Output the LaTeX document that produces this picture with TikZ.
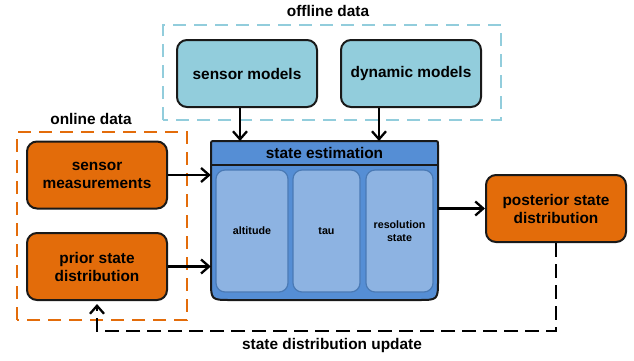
\documentclass[tikz,border=0pt]{standalone}
\usepackage{fontspec}
\setmainfont{Liberation Sans}
\usetikzlibrary{arrows.meta,calc}
\definecolor{lblue}{HTML}{92CDDC}
\definecolor{dorange}{HTML}{E36C0A}
\definecolor{seblue}{HTML}{558ED5}
\definecolor{inblue}{HTML}{8DB3E2}
\definecolor{inedge}{HTML}{4A7AB5}
\tikzset{
  x=1pt,y=1pt,
  box/.style={draw=black!90, line width=2pt, rounded corners=10pt, minimum width=140pt, minimum height=67pt, align=center, font=\fontsize{15.4}{18}\selectfont\bfseries},
  bluebox/.style={box, fill=lblue},
  orbox/.style={box, fill=dorange},
  inbox/.style={draw=inedge, line width=1.2pt, fill=inblue, rounded corners=9pt, minimum height=122pt, align=center, font=\fontsize{10.7}{13}\selectfont\bfseries},
  grp/.style={line width=2.8pt, dash pattern=on 13pt off 8pt},
  lbl/.style={font=\fontsize{15.4}{18}\selectfont\bfseries},
  tip/.style={-{Straight Barb[length=8pt,width=14pt,line width=2.3pt]}},
  arr/.style={line width=2.3pt, tip},
}
\begin{document}
\begin{tikzpicture}
\useasboundingbox (0,0) rectangle (634,360);
% groups
\draw[grp, draw=lblue] (163,240) rectangle (501,335);
\node[lbl] (offl) at (328,349) {offline data};
\draw[grp, draw=dorange] (17,40) rectangle (187,228);
\node[lbl] (onl) at (91,241) {online data};
% top boxes
\node[bluebox] (smod) at (247,286.5) {sensor models};
\node[bluebox] (dmod) at (411,286.5) {dynamic models};
% left boxes
\node[orbox] (smeas) at (97,185) {sensor\\measurements};
\node[orbox] (prior) at (97,93.5) {prior state\\distribution};
% posterior
\node[orbox] (post) at (556,151.5) {posterior state\\distribution};
% state estimation
\node[minimum width=227pt, minimum height=159pt, inner sep=0] (se) at (324.5,139.5) {};
\draw[line width=2pt, draw=black!90, fill=seblue]
  (211,215) -- (211,80) .. controls (211,60) .. (231,60) -- (418,60)
  .. controls (438,60) .. (438,80) -- (438,215) .. controls (438,219) .. (434,219)
  -- (215,219) .. controls (211,219) .. (211,215) -- cycle;
\draw[line width=1.5pt, draw=black!90] (211,195) -- (438,195);
\node[lbl] (setitle) at (324.5,207) {state estimation};
\node[inbox, minimum width=72pt] (alt) at (252,129) {altitude};
\node[inbox, minimum width=67pt] (tau) at (326.5,129) {tau};
\node[inbox, minimum width=67pt] (res) at (399.5,129) {resolution\\state};
% arrows
\coordinate (a1) at (240,219);
\coordinate (a2) at (379,219);
\draw[arr] (smod.south -| a1) -- (a1);
\draw[arr] (dmod.south -| a2) -- (a2);
\draw[arr] (smeas.east) -- (smeas.east -| se.west);
\draw[arr] (prior.east) -- (prior.east -| se.west);
\draw[arr] (post.west -| se.east) -- (post.west);
\coordinate (fb) at (97,29);
\draw[line width=2.6pt, dash pattern=on 14pt off 7pt, tip]
  (post.south) |- (fb) -- ([yshift=-3pt]prior.south);
\node[lbl] (upd) at (332,14) {state distribution update};
\end{tikzpicture}
\end{document}
